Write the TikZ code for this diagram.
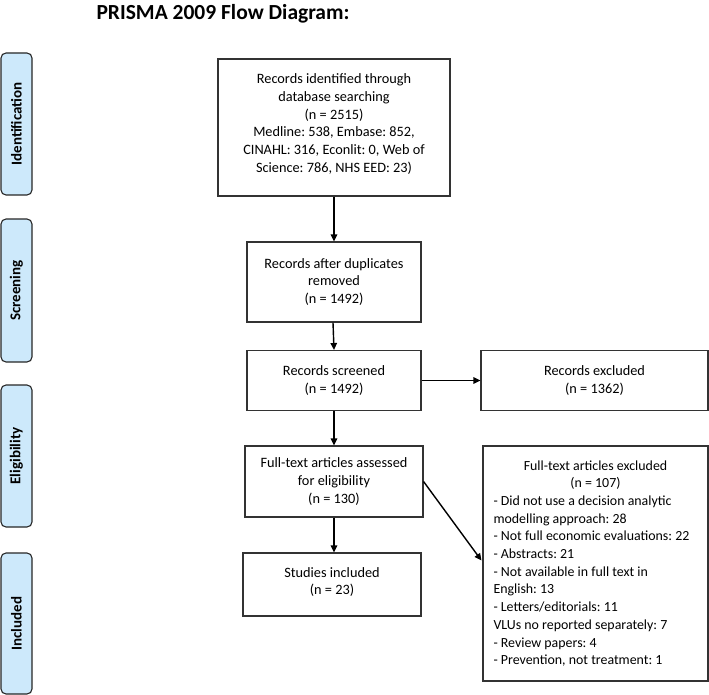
\documentclass[tikz,border=0pt]{standalone}
\usepackage{fontspec}
\setmainfont{Carlito}
\usetikzlibrary{arrows.meta,calc}
\frenchspacing
\definecolor{sidefill}{HTML}{CDE9FB}
\tikzset{
  box/.style={draw=black!80, line width=1.1pt, fill=white, align=center, inner sep=0pt,
    font=\fontsize{14.3}{17.7}\selectfont},
  side/.style={draw=black!85, line width=1.1pt, fill=sidefill, rounded corners=5pt, inner sep=0pt,
    font=\fontsize{15}{17}\selectfont\bfseries},
  arr/.style={line width=1.4pt, -{Triangle[length=7pt,width=6.5pt]}},
}
\begin{document}
\begin{tikzpicture}[x=1pt,y=-1pt]
\useasboundingbox (0,0) rectangle (709,695);
\node[font=\fontsize{21.5}{24}\selectfont\bfseries] (title) at (223,14) {PRISMA 2009 Flow Diagram:};
% side labels
\node[side, minimum width=31pt, minimum height=142pt] (sid) at (16.5,124) {\rotatebox{90}{Identification}};
\node[side, minimum width=31pt, minimum height=143pt] (sscr) at (16.5,290.5) {\rotatebox{90}{Screening}};
\node[side, minimum width=31pt, minimum height=142pt] (selig) at (16.5,456) {\rotatebox{90}{Eligibility}};
\node[side, minimum width=31pt, minimum height=141pt] (sincl) at (16.5,623.5) {\rotatebox{90}{Included}};
% boxes
\node[box, minimum width=232pt, minimum height=137pt] (b1) at (334,127.5)
  {Records identified through\\database searching\\(n = 2515)\\Medline: 538, Embase: 852,\\CINAHL: 316, Econlit: 0, Web of\\Science: 786, NHS EED: 23)\\[-8.7pt]};
\node[box, minimum width=174pt, minimum height=80pt] (b2) at (334,282)
  {Records after duplicates\\removed\\(n = 1492)};
\node[box, minimum width=174pt, minimum height=60pt] (b3) at (334,380.5)
  {Records screened\\(n = 1492)};
\node[box, minimum width=227pt, minimum height=60pt] (bex) at (594.5,380.5)
  {Records excluded\\(n = 1362)};
\node[box, minimum width=178pt, minimum height=71pt] (b4) at (334,481.5)
  {Full-text articles assessed\\for eligibility\\(n = 130)};
\node[box, minimum width=178pt, minimum height=63pt] (b5) at (332,584.5)
  {Studies included\\(n = 23)\\[-10.7pt]};
\node[box, minimum width=225pt, minimum height=235pt, align=left, font=\fontsize{13.9}{17.7}\selectfont] (b6) at (595.5,563.5)
  {\makebox[204pt][c]{Full-text articles excluded}\\
  \makebox[204pt][c]{(n = 107)}\\
  - Did not use a decision analytic\\
  modelling approach: 28\\
  - Not full economic evaluations: 22\\
  - Abstracts: 21\\
  - Not available in full text in\\
  English: 13\\
  - Letters/editorials: 11\\
  VLUs no reported separately: 7\\
  - Review papers: 4\\
  - Prevention, not treatment: 1};
% arrows
\draw[arr] (b1.south) -- (b2.north);
\draw[arr] ($(b2.south)+(-1,0)$) -- (b3.north);
\draw[arr] (b3.east) -- (bex.west);
\draw[arr] (b3.south) -- (b4.north);
\draw[arr] (b4.south) -- (b4.south |- b5.north);
\draw[arr] (b4.east) -- ($(b6.west)+(-1,-3)$);
\end{tikzpicture}
\end{document}
